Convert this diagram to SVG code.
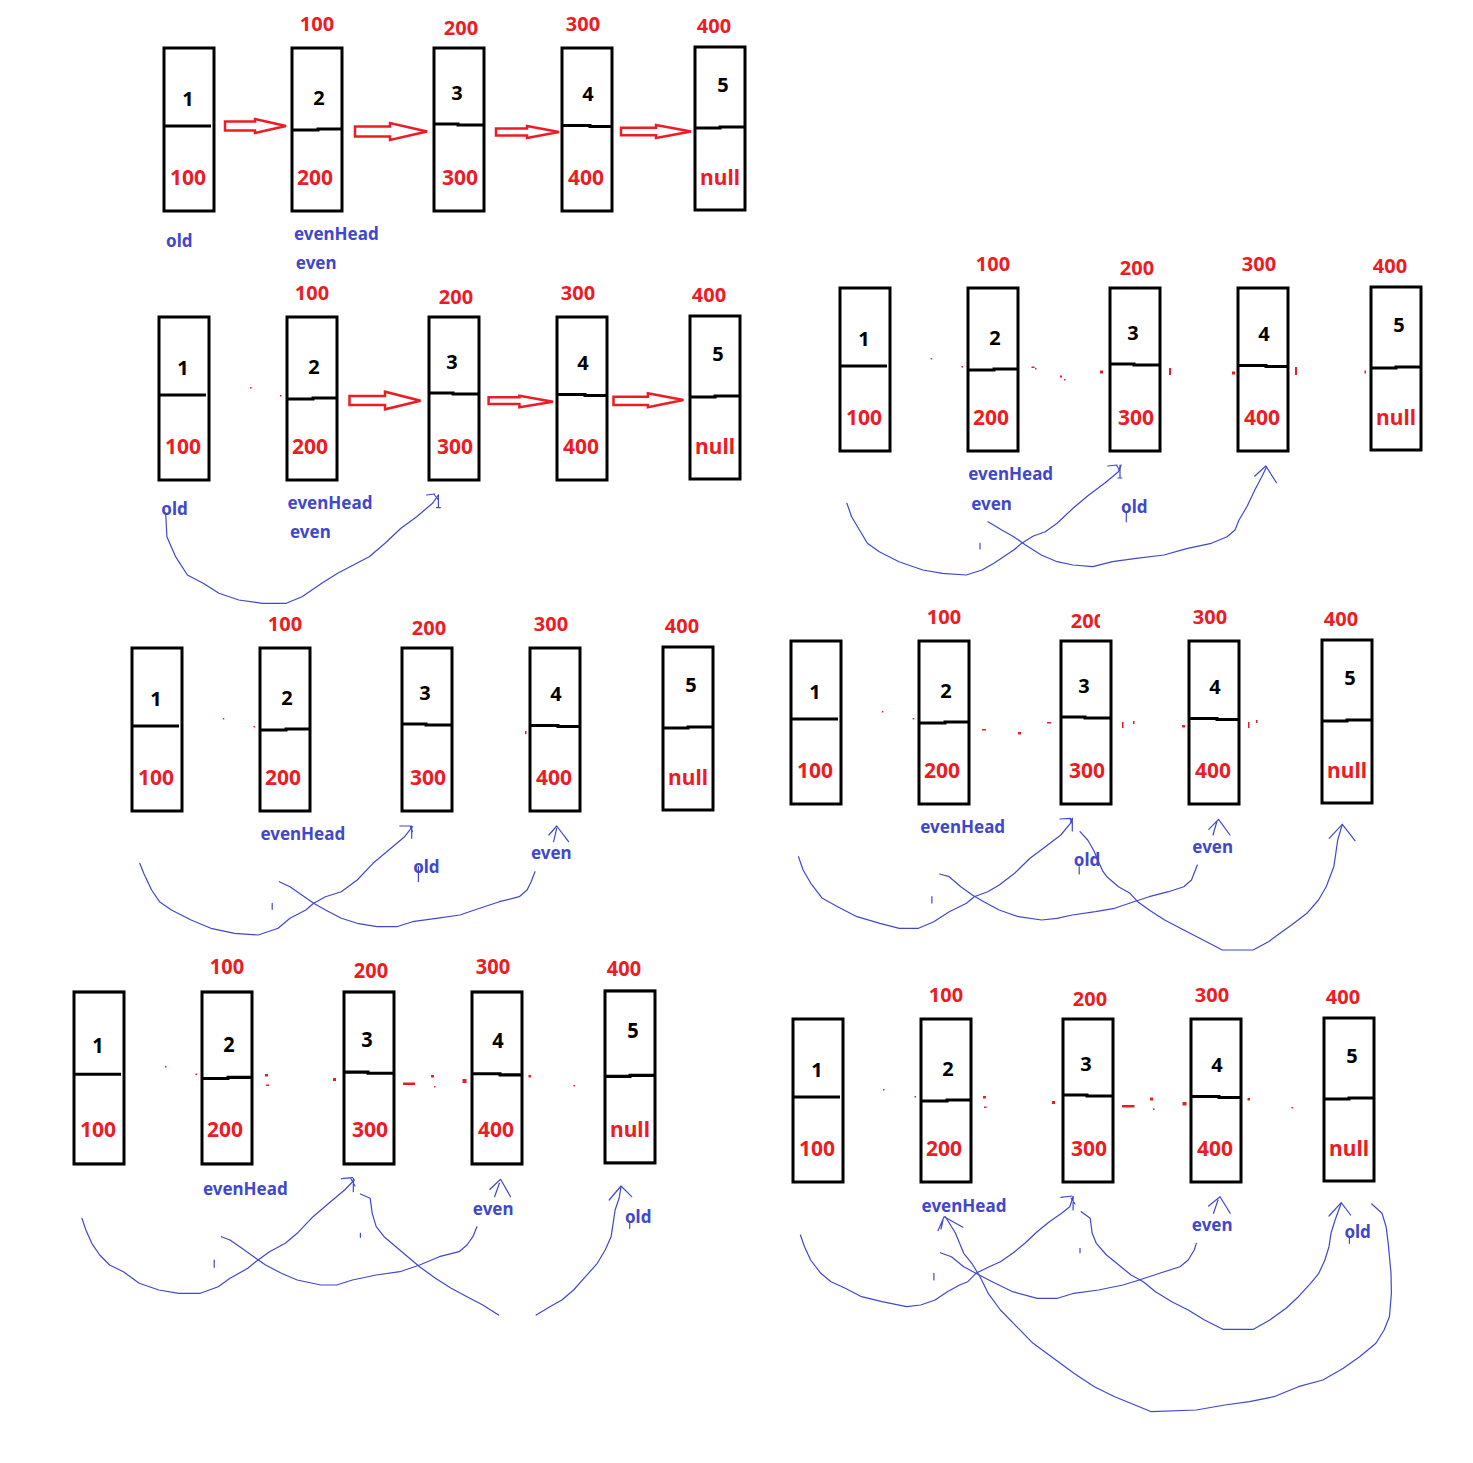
<svg xmlns="http://www.w3.org/2000/svg" width="1473" height="1463" viewBox="0 0 1473 1463">
<defs>
<style>
.box{fill:none;stroke:#000;stroke-width:3}
.dv{fill:none;stroke:#000;stroke-width:3}
.num{font-family:"Noto Sans","Open Sans",sans-serif;font-weight:bold;font-size:20px;fill:#000;text-anchor:middle}
.val{font-family:"Noto Sans","Open Sans",sans-serif;font-weight:bold;font-size:21px;fill:#ED1C24;text-anchor:middle}
.adr{font-family:"Noto Sans","Open Sans",sans-serif;font-weight:bold;font-size:20px;fill:#ED1C24;text-anchor:middle}
.lbl{font-family:"Noto Sans","Open Sans",sans-serif;font-weight:bold;font-size:17px;fill:#3F48CC;text-anchor:middle}
.cur{fill:none;stroke:#3F48CC;stroke-width:1.2;stroke-linejoin:round;stroke-linecap:round}
.arr{fill:#fff;stroke:#ED1C24;stroke-width:2.5;stroke-linejoin:miter}
.spk{fill:#ED1C24}
</style>
<clipPath id="cut200" clipPathUnits="userSpaceOnUse"><rect x="400" y="0" width="73" height="45"/></clipPath>
</defs>
<rect width="1473" height="1463" fill="#fff"/>

<g id="panel1">
<g id="p1-node1"><rect class="box" x="164" y="48" width="50" height="163"/><path class="dv" d="M164,126H211"/><text class="num" x="188" y="106">1</text><text class="val" x="188" y="185">100</text></g>
<g id="p1-node2"><text class="adr" x="317" y="31">100</text><rect class="box" x="292" y="48" width="50" height="163"/><path class="dv" d="M292,130H318V129H342"/><text class="num" x="319" y="105">2</text><text class="val" x="315" y="185">200</text></g>
<g id="p1-node3"><text class="adr" x="461" y="35">200</text><rect class="box" x="434" y="48" width="50" height="163"/><path class="dv" d="M434,124H458V125H484"/><text class="num" x="457" y="100">3</text><text class="val" x="460" y="185">300</text></g>
<g id="p1-node4"><text class="adr" x="583" y="31">300</text><rect class="box" x="562" y="48" width="50" height="163"/><path class="dv" d="M562,125.5H590V126.5H612"/><text class="num" x="588" y="101">4</text><text class="val" x="586" y="185">400</text></g>
<g id="p1-node5"><text class="adr" x="714" y="33">400</text><rect class="box" x="695" y="47" width="50" height="163"/><path class="dv" d="M695,128H720V127H745"/><text class="num" x="723" y="92">5</text><text class="val" x="720" y="185">null</text></g>
</g>

<g id="panel2" transform="translate(-5,269)">
<g id="p2-node1"><rect class="box" x="164" y="48" width="50" height="163"/><path class="dv" d="M164,126H211"/><text class="num" x="188" y="106">1</text><text class="val" x="188" y="185">100</text></g>
<g id="p2-node2"><text class="adr" x="317" y="31">100</text><rect class="box" x="292" y="48" width="50" height="163"/><path class="dv" d="M292,130H318V129H342"/><text class="num" x="319" y="105">2</text><text class="val" x="315" y="185">200</text></g>
<g id="p2-node3"><text class="adr" x="461" y="35">200</text><rect class="box" x="434" y="48" width="50" height="163"/><path class="dv" d="M434,124H458V125H484"/><text class="num" x="457" y="100">3</text><text class="val" x="460" y="185">300</text></g>
<g id="p2-node4"><text class="adr" x="583" y="31">300</text><rect class="box" x="562" y="48" width="50" height="163"/><path class="dv" d="M562,125.5H590V126.5H612"/><text class="num" x="588" y="101">4</text><text class="val" x="586" y="185">400</text></g>
<g id="p2-node5"><text class="adr" x="714" y="33">400</text><rect class="box" x="695" y="47" width="50" height="163"/><path class="dv" d="M695,128H720V127H745"/><text class="num" x="723" y="92">5</text><text class="val" x="720" y="185">null</text></g>
</g>

<g id="panel3" transform="translate(676,240)">
<g id="p3-node1"><rect class="box" x="164" y="48" width="50" height="163"/><path class="dv" d="M164,126H211"/><text class="num" x="188" y="106">1</text><text class="val" x="188" y="185">100</text></g>
<g id="p3-node2"><text class="adr" x="317" y="31">100</text><rect class="box" x="292" y="48" width="50" height="163"/><path class="dv" d="M292,130H318V129H342"/><text class="num" x="319" y="105">2</text><text class="val" x="315" y="185">200</text></g>
<g id="p3-node3"><text class="adr" x="461" y="35">200</text><rect class="box" x="434" y="48" width="50" height="163"/><path class="dv" d="M434,124H458V125H484"/><text class="num" x="457" y="100">3</text><text class="val" x="460" y="185">300</text></g>
<g id="p3-node4"><text class="adr" x="583" y="31">300</text><rect class="box" x="562" y="48" width="50" height="163"/><path class="dv" d="M562,125.5H590V126.5H612"/><text class="num" x="588" y="101">4</text><text class="val" x="586" y="185">400</text></g>
<g id="p3-node5"><text class="adr" x="714" y="33">400</text><rect class="box" x="695" y="47" width="50" height="163"/><path class="dv" d="M695,128H720V127H745"/><text class="num" x="723" y="92">5</text><text class="val" x="720" y="185">null</text></g>
</g>

<g id="panel4" transform="translate(-32,600)">
<g id="p4-node1"><rect class="box" x="164" y="48" width="50" height="163"/><path class="dv" d="M164,126H211"/><text class="num" x="188" y="106">1</text><text class="val" x="188" y="185">100</text></g>
<g id="p4-node2"><text class="adr" x="317" y="31">100</text><rect class="box" x="292" y="48" width="50" height="163"/><path class="dv" d="M292,130H318V129H342"/><text class="num" x="319" y="105">2</text><text class="val" x="315" y="185">200</text></g>
<g id="p4-node3"><text class="adr" x="461" y="35">200</text><rect class="box" x="434" y="48" width="50" height="163"/><path class="dv" d="M434,124H458V125H484"/><text class="num" x="457" y="100">3</text><text class="val" x="460" y="185">300</text></g>
<g id="p4-node4"><text class="adr" x="583" y="31">300</text><rect class="box" x="562" y="48" width="50" height="163"/><path class="dv" d="M562,125.5H590V126.5H612"/><text class="num" x="588" y="101">4</text><text class="val" x="586" y="185">400</text></g>
<g id="p4-node5"><text class="adr" x="714" y="33">400</text><rect class="box" x="695" y="47" width="50" height="163"/><path class="dv" d="M695,128H720V127H745"/><text class="num" x="723" y="92">5</text><text class="val" x="720" y="185">null</text></g>
</g>

<g id="panel5" transform="translate(627,593)">
<g id="p5-node1"><rect class="box" x="164" y="48" width="50" height="163"/><path class="dv" d="M164,126H211"/><text class="num" x="188" y="106">1</text><text class="val" x="188" y="185">100</text></g>
<g id="p5-node2"><text class="adr" x="317" y="31">100</text><rect class="box" x="292" y="48" width="50" height="163"/><path class="dv" d="M292,130H318V129H342"/><text class="num" x="319" y="105">2</text><text class="val" x="315" y="185">200</text></g>
<g id="p5-node3"><text class="adr" x="461" y="35" clip-path="url(#cut200)">200</text><rect class="box" x="434" y="48" width="50" height="163"/><path class="dv" d="M434,124H458V125H484"/><text class="num" x="457" y="100">3</text><text class="val" x="460" y="185">300</text></g>
<g id="p5-node4"><text class="adr" x="583" y="31">300</text><rect class="box" x="562" y="48" width="50" height="163"/><path class="dv" d="M562,125.5H590V126.5H612"/><text class="num" x="588" y="101">4</text><text class="val" x="586" y="185">400</text></g>
<g id="p5-node5"><text class="adr" x="714" y="33">400</text><rect class="box" x="695" y="47" width="50" height="163"/><path class="dv" d="M695,128H720V127H745"/><text class="num" x="723" y="92">5</text><text class="val" x="720" y="185">null</text></g>
</g>

<g id="panel6" transform="translate(-90,992) scale(1,1.055) translate(0,-48)">
<g id="p6-node1"><rect class="box" x="164" y="48" width="50" height="163"/><path class="dv" d="M164,126H211"/><text class="num" x="188" y="106">1</text><text class="val" x="188" y="185">100</text></g>
<g id="p6-node2"><text class="adr" x="317" y="31">100</text><rect class="box" x="292" y="48" width="50" height="163"/><path class="dv" d="M292,130H318V129H342"/><text class="num" x="319" y="105">2</text><text class="val" x="315" y="185">200</text></g>
<g id="p6-node3"><text class="adr" x="461" y="35">200</text><rect class="box" x="434" y="48" width="50" height="163"/><path class="dv" d="M434,124H458V125H484"/><text class="num" x="457" y="100">3</text><text class="val" x="460" y="185">300</text></g>
<g id="p6-node4"><text class="adr" x="583" y="31">300</text><rect class="box" x="562" y="48" width="50" height="163"/><path class="dv" d="M562,125.5H590V126.5H612"/><text class="num" x="588" y="101">4</text><text class="val" x="586" y="185">400</text></g>
<g id="p6-node5"><text class="adr" x="714" y="33">400</text><rect class="box" x="695" y="47" width="50" height="163"/><path class="dv" d="M695,128H720V127H745"/><text class="num" x="723" y="92">5</text><text class="val" x="720" y="185">null</text></g>
</g>

<g id="panel7" transform="translate(629,971)">
<g id="p7-node1"><rect class="box" x="164" y="48" width="50" height="163"/><path class="dv" d="M164,126H211"/><text class="num" x="188" y="106">1</text><text class="val" x="188" y="185">100</text></g>
<g id="p7-node2"><text class="adr" x="317" y="31">100</text><rect class="box" x="292" y="48" width="50" height="163"/><path class="dv" d="M292,130H318V129H342"/><text class="num" x="319" y="105">2</text><text class="val" x="315" y="185">200</text></g>
<g id="p7-node3"><text class="adr" x="461" y="35">200</text><rect class="box" x="434" y="48" width="50" height="163"/><path class="dv" d="M434,124H458V125H484"/><text class="num" x="457" y="100">3</text><text class="val" x="460" y="185">300</text></g>
<g id="p7-node4"><text class="adr" x="583" y="31">300</text><rect class="box" x="562" y="48" width="50" height="163"/><path class="dv" d="M562,125.5H590V126.5H612"/><text class="num" x="588" y="101">4</text><text class="val" x="586" y="185">400</text></g>
<g id="p7-node5"><text class="adr" x="714" y="33">400</text><rect class="box" x="695" y="47" width="50" height="163"/><path class="dv" d="M695,128H720V127H745"/><text class="num" x="723" y="92">5</text><text class="val" x="720" y="185">null</text></g>
</g>

<g id="connectors">
<g id="red-arrows">
<path class="arr" d="M225,121.5L255,121.5L255,119L286,126L255,133L255,130.5L225,130.5Z"/>
<path class="arr" d="M355,126.5L390,126.5L390,123L427,131.5L390,140L390,136.5L355,136.5Z"/>
<path class="arr" d="M496,128.5L527,128.5L527,126L559,132L527,138L527,135.5L496,135.5Z"/>
<path class="arr" d="M621,127.8L656,127.8L656,125L691,131.5L656,138L656,135.2L621,135.2Z"/>
<path class="arr" d="M349.5,396L385,396L385,391.7L420.6,400.7L385,409.3L385,405L349.5,405Z"/>
<path class="arr" d="M488.6,397.3L519.4,397.3L519.4,395.7L553,401.7L519.4,407.3L519.4,404L488.6,404Z"/>
<path class="arr" d="M613.5,396.7L647.9,396.7L647.9,393.3L683.5,400L647.9,407.3L647.9,405L613.5,405Z"/>
</g>
<g id="blue-curves">
<path class="cur" d="M165.7,513L166.9,536.7L175.6,556.7L187.4,575L203.2,583.3L219,593.3L238.8,600L262.5,603.3L286.2,603.3L302,596.7L321.8,583.3L337.6,573.3L353.4,565L369.2,556.7L385,543.3L400.9,528.3L416.7,516.7L432.5,503.3L438.4,495"/>
<path class="cur" d="M426.6,495L434.5,494M434.5,495L438.4,500M438.4,495V507.7M436.5,507.7H440.4"/>

<path class="cur" d="M846.9,503.3L851.6,516.7L859.5,530L867.4,543.3L879.3,551.7L899,561.7L922.8,570L942.5,573.3L966.2,575L982,570L993.9,563.3L1013.7,550L1021.6,543.3L1033.4,536L1045.3,531.7L1057.1,523.3L1073,508.3L1088.8,495L1104.6,483.3L1118.4,471.7L1121.2,465"/>
<path class="cur" d="M1107.7,466L1117,465M1117,466L1120,471M1120,465V478M1118,478H1122"/>
<path class="cur" d="M988,521.7L1001.8,530L1013.7,536.7L1025.5,545L1041.3,555L1057.1,561.7L1073,565L1092.7,566.7L1112.5,561.7L1136.2,558.3L1163.9,555L1187.6,548.3L1211.3,543.3L1227.1,536.7L1235,530L1239,520L1246.9,506.7L1254.8,490L1262.7,475L1266.6,466.7"/>
<path class="cur" d="M1254.8,476L1265.8,466L1276.5,482.7M980,543.3V549M1126.3,513V521.7"/>

<path class="cur" d="M139.8,863.3L143.7,873.3L151.6,890L159.5,901.7L171.4,910L191.1,920L210.9,928.3L234.6,933.3L258.3,935L278.1,928.3L290,918.3L305.8,910L313.7,903.3L325.5,896.7L341.3,891.7L357.2,880L373,863.3L388.8,850L404.6,836.7L412.5,826.7"/>
<path class="cur" d="M399.8,826L410.5,826M410.5,826.7L412.5,831.7M411.7,826V838.3"/>
<path class="cur" d="M279.3,881.7L290,886.7L301.8,895L313.7,903.3L325.5,910L341.3,918.3L357.2,923.3L376.9,926.7L396.7,926.7L412.5,921.7L436.2,918.3L459.9,915L479.7,908.3L499.4,901.7L519.2,896.7L527.1,890L531.1,881.7L535,871.7"/>
<path class="cur" d="M548.9,835L556.7,826L568.6,841.7M553.6,841.7L556.7,828.3M272.2,903.3V909.3M418.4,866.7V881.7"/>

<path class="cur" d="M798.5,856.7L803.1,870L810.8,883.3L822.3,898.3L837.7,906.7L856.9,916.7L880,923.3L899.2,928.3L918.5,928.3L933.8,921.7L949.2,911.7L966.5,903.3L974.2,896.7L987.7,891.7L999.2,885L1014.6,873.3L1030,858.3L1045.4,846.7L1060.8,835L1070.4,823.3L1072.3,818.3"/>
<path class="cur" d="M1060,819L1070.4,818.3M1070.4,819L1072.3,824M1072.3,818.3V831"/>
<path class="cur" d="M939.6,874L949.2,876.7L960.8,886.7L972.3,895L983.8,901.7L999.2,910L1018.5,916.7L1041.5,920L1056.9,918.3L1072.3,915L1095.4,911.7L1114.6,908.3L1133.8,901.7L1149.2,896.7L1168.5,891.7L1183.8,886.7L1191.5,880L1195.4,870L1197.3,865"/>
<path class="cur" d="M1208.8,829.3L1218.5,819.3L1230,835M1213,835L1217,821"/>
<path class="cur" d="M1080,831.7L1087.7,840L1093.5,850L1099.2,863.3L1103.1,871.7L1106.9,876.7L1118.5,886.7L1130,893.3L1137.7,901.7L1149.2,910L1164.6,920L1183.8,930L1203.1,940L1222.3,950L1253.1,950L1268.5,941.7L1280,933.3L1291.5,925L1306.9,913.3L1318.5,900L1326.2,886.7L1330,876.7L1333.8,866.7L1335.8,853.3L1337.7,840L1342.3,824.3"/>
<path class="cur" d="M1329.2,838.3L1342.3,824.3L1355,840.7M931.9,896.7V903M1079.2,866.7V874"/>

<path class="cur" d="M81.9,1218.3L85.9,1230L91.8,1243.3L99.7,1255L109.6,1265L123.4,1271.7L139.2,1283.3L158.9,1290L178.7,1293.3L200.4,1293.3L218.2,1286.7L230,1278.3L247.8,1268.3L255.7,1261.7L269.5,1251.7L285.3,1243.3L297.2,1233.3L313,1216.7L328.8,1203.3L344.6,1190L354.4,1180"/>
<path class="cur" d="M341.4,1178.7L352.5,1177.7M351,1179L355,1186M353.3,1178.3V1191.7"/>
<path class="cur" d="M221.3,1236.7L230,1240L241.9,1248.3L253.7,1256.7L265.6,1265L281.4,1273.3L297.2,1280L320.9,1285L336.7,1285L352.5,1280L376.2,1275L399.9,1271.7L419.6,1265L439.3,1256.7L459.1,1251.7L467,1245L472.9,1236.7L476.9,1226.7"/>
<path class="cur" d="M489.9,1189.3L500.6,1179.3L510.5,1196.7M494.6,1196.7L499.4,1183.3"/>
<path class="cur" d="M360.4,1194L370.2,1198.3L372.2,1213.3L376.2,1226.7L384.1,1236.7L395.9,1246.7L407.7,1256.7L419.6,1266.7L435.4,1278.3L451.2,1288.3L467,1296.7L482.8,1305L498.6,1315"/>
<path class="cur" d="M536.1,1315L549.9,1306.7L561.8,1300L573.6,1290L585.5,1276.7L597.3,1263.3L605.2,1250L611.1,1236.7L613.1,1223.3L615.1,1210L619.1,1198.3L621,1186.7"/>
<path class="cur" d="M609.2,1200L621,1186L631.7,1196.7M214.2,1260V1267.3M360.4,1233.3V1237.3M629.7,1221.7V1228.3"/>

<path class="cur" d="M800.4,1235L804.5,1246.7L810.6,1260L820.8,1273.3L831,1281.7L845.3,1288.3L861.6,1296.7L882,1301.7L906.5,1306.7L920.8,1305L935.1,1300L947.3,1291.7L959.6,1285L967.8,1281.7L975.9,1273.3L988.2,1267.3L1000.4,1261.7L1012.7,1253.3L1024.9,1243.3L1037.1,1231.7L1049.4,1221.7L1061.6,1213.3L1069.8,1206.7L1073.1,1196.7"/>
<path class="cur" d="M1060.8,1197.3L1071.8,1196M1071,1198L1075,1204M1073.1,1196.7V1210"/>
<path class="cur" d="M940.4,1252.7L951.4,1256.7L963.7,1266.7L975.9,1273.3L992.2,1281.7L1012.7,1291.7L1037.1,1298.3L1057.6,1298.3L1073.9,1293.3L1098.4,1290L1122.9,1285L1139.2,1280L1159.6,1273.3L1180,1266.7L1188.2,1260L1194.3,1250L1196.3,1243.3"/>
<path class="cur" d="M1208.6,1206L1220,1196.7L1230.2,1213.3M1213.5,1213.3L1218,1200"/>
<path class="cur" d="M1081.2,1211.7L1090.2,1218.3L1092.2,1233.3L1096.3,1243.3L1106.5,1255L1118.8,1265L1131,1275L1143.3,1281.7L1155.5,1291.7L1171.8,1301.7L1188.2,1310L1204.5,1320L1222.9,1329.3L1253.5,1329.3L1269.8,1320L1286.1,1308.3L1298.4,1296.7L1310.6,1283.3L1318.8,1273.3L1324.9,1260L1329,1246.7L1331,1233.3L1335.1,1220L1341.2,1203.3"/>
<path class="cur" d="M1329,1216L1341.2,1202.7L1350.6,1215"/>
<path class="cur" d="M1371.8,1204L1382,1213.3L1386.1,1226.7L1388.2,1243.3L1391,1273.3L1391.4,1293.3L1389.4,1316.7L1384.1,1330L1375.9,1343.3L1359.6,1356.7L1343.3,1368.3L1322.9,1380L1298.4,1386.7L1273.9,1396.7L1249.4,1401.7L1224.9,1405L1196.3,1410L1151.4,1411.7L1139.2,1406.7L1114.7,1396.7L1094.3,1386.7L1073.9,1373.3L1053.5,1358.3L1033.1,1343.3L1016.7,1326.7L1000.4,1310L988.2,1293.3L980,1276.7L971.8,1263.3L963.7,1253.3L959.6,1243.3L955.5,1233.3L949.4,1223.3L945.3,1216.7"/>
<path class="cur" d="M938,1230.7L944.1,1216.7L962.9,1227.3M941,1229L943,1220M933.9,1273.3V1280M1080,1248.3V1252.7M1349.4,1238.3V1243.3"/>
</g>
</g>

<g id="pointer-labels">
<text class="lbl" x="179.3" y="246.5">old</text><text class="lbl" x="336.3" y="240">evenHead</text><text class="lbl" x="316.2" y="269">even</text>
<text class="lbl" x="174.5" y="515">old</text><text class="lbl" x="330" y="509">evenHead</text><text class="lbl" x="310.4" y="538">even</text>
<text class="lbl" x="1010.7" y="480">evenHead</text><text class="lbl" x="991.5" y="510">even</text><text class="lbl" x="1134.3" y="512.5">old</text>
<text class="lbl" x="302.8" y="840">evenHead</text><text class="lbl" x="426.4" y="872.5">old</text><text class="lbl" x="551.3" y="859">even</text>
<text class="lbl" x="962.7" y="833">evenHead</text><text class="lbl" x="1087" y="866">old</text><text class="lbl" x="1212.7" y="852.5">even</text>
<text class="lbl" x="245.3" y="1194.5">evenHead</text><text class="lbl" x="493.2" y="1215">even</text><text class="lbl" x="638.2" y="1222.5">old</text>
<text class="lbl" x="964" y="1211.5">evenHead</text><text class="lbl" x="1212.2" y="1230.5">even</text><text class="lbl" x="1357.6" y="1238">old</text>
</g>

<g id="specks">
<rect class="spk" x="250" y="387" width="1.5" height="1.5"/><rect class="spk" x="280" y="395" width="1.5" height="1.5"/>
<rect class="spk" x="930.7" y="358" width="1.5" height="1.5"/><rect class="spk" x="961.5" y="366" width="1.5" height="1.5"/><rect class="spk" x="1031.5" y="366.5" width="3" height="1.5"/><rect class="spk" x="1035" y="368" width="1.5" height="1.5"/><rect class="spk" x="1060" y="375.5" width="2" height="2"/><rect class="spk" x="1064" y="379" width="1.5" height="1.5"/><rect class="spk" x="1100" y="370.5" width="3" height="3"/><rect class="spk" x="1169" y="368" width="2" height="7"/><rect class="spk" x="1232" y="371.5" width="3" height="3"/><rect class="spk" x="1295" y="367" width="2" height="8"/><rect class="spk" x="1364.5" y="370.5" width="1.5" height="3"/>
<rect class="spk" x="222.8" y="718" width="1.5" height="1.5"/><rect class="spk" x="253.6" y="726" width="1.5" height="1.5"/><rect class="spk" x="525" y="731" width="1.5" height="3"/>
<rect class="spk" x="881.9" y="711" width="1.5" height="1.5"/><rect class="spk" x="912.7" y="718" width="1.5" height="1.5"/><rect class="spk" x="982" y="729" width="4" height="1.5"/><rect class="spk" x="1018" y="732" width="3" height="2.5"/><rect class="spk" x="1047" y="722" width="4" height="1.5"/><rect class="spk" x="1122" y="722" width="1.5" height="6"/><rect class="spk" x="1133" y="721" width="1.5" height="3"/><rect class="spk" x="1182" y="725" width="3" height="2.5"/><rect class="spk" x="1248" y="722" width="1.5" height="6"/><rect class="spk" x="1256" y="720" width="1.5" height="3"/>
<rect class="spk" x="165" y="1066" width="1.5" height="1.5"/><rect class="spk" x="195.5" y="1073.5" width="1.5" height="1.5"/><rect class="spk" x="265" y="1074" width="3" height="2.5"/><rect class="spk" x="266" y="1084.5" width="3" height="1.5"/><rect class="spk" x="333" y="1078" width="3" height="3"/><rect class="spk" x="403" y="1082.5" width="12" height="2.5"/><rect class="spk" x="431" y="1075" width="3" height="2.5"/><rect class="spk" x="434" y="1086" width="1.5" height="1.5"/><rect class="spk" x="462.5" y="1079" width="4" height="4"/><rect class="spk" x="528.5" y="1075" width="2.5" height="2.5"/><rect class="spk" x="573.5" y="1085" width="1.5" height="1.5"/>
<rect class="spk" x="883" y="1089" width="1.5" height="1.5"/><rect class="spk" x="914.5" y="1096" width="1.5" height="1.5"/><rect class="spk" x="983" y="1096" width="3" height="2.5"/><rect class="spk" x="984" y="1106.5" width="2.5" height="1.5"/><rect class="spk" x="1052" y="1101" width="3" height="3"/><rect class="spk" x="1122" y="1105" width="12.5" height="2.5"/><rect class="spk" x="1150" y="1097.5" width="3" height="3"/><rect class="spk" x="1153" y="1108.5" width="1.5" height="1.5"/><rect class="spk" x="1182.5" y="1102" width="4" height="3.5"/><rect class="spk" x="1247.5" y="1098" width="2.5" height="2.5"/><rect class="spk" x="1291.5" y="1107" width="1.5" height="1.5"/>
</g>
</svg>
